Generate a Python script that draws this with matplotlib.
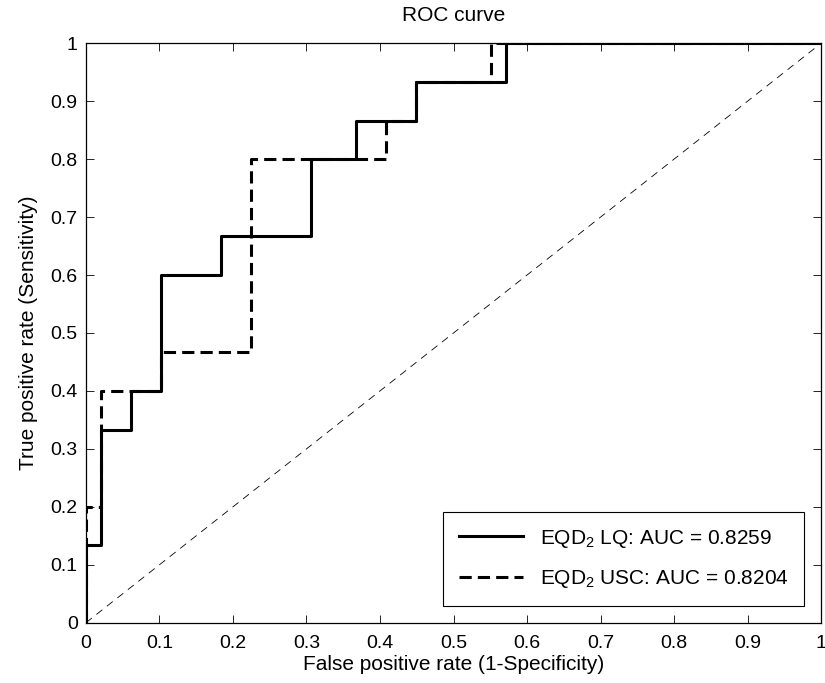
import matplotlib
matplotlib.use("Agg")
import matplotlib.pyplot as plt

plt.rcParams['font.family'] = ['Liberation Sans', 'DejaVu Sans']
plt.rcParams['mathtext.default'] = 'regular'

# ROC points (49 negatives, 15 positives)
fpr_lq = [0.0, 0.0, 0.0204, 0.0204, 0.0612, 0.0612, 0.1020, 0.1020, 0.1837, 0.1837,
          0.3061, 0.3061, 0.3673, 0.3673, 0.4490, 0.4490, 0.5714, 0.5714, 1.0]
tpr_lq = [0.0, 0.1333, 0.1333, 0.3333, 0.3333, 0.4, 0.4, 0.6, 0.6, 0.6667,
          0.6667, 0.8, 0.8, 0.8667, 0.8667, 0.9333, 0.9333, 1.0, 1.0]

fpr_usc = [0.0, 0.0, 0.0204, 0.0204, 0.1020, 0.1020, 0.2245, 0.2245, 0.4082, 0.4082,
           0.4490, 0.4490, 0.5510, 0.5510, 1.0]
tpr_usc = [0.0, 0.2, 0.2, 0.4, 0.4, 0.4667, 0.4667, 0.8, 0.8, 0.8667,
           0.8667, 0.9333, 0.9333, 1.0, 1.0]

auc_lq = 0.8259
auc_usc = 0.8204

ticks = [0, 0.1, 0.2, 0.3, 0.4, 0.5, 0.6, 0.7, 0.8, 0.9, 1]
tick_labels = ['0', '0.1', '0.2', '0.3', '0.4', '0.5', '0.6', '0.7', '0.8', '0.9', '1']

fig = plt.figure(figsize=(8.25, 6.83), dpi=100)
ax = fig.add_axes([0.1042, 0.0883, 0.8910, 0.8483])

ax.plot(fpr_lq, tpr_lq, color='black', linewidth=2.2, linestyle='-',
        label=f'EQD$_2$ LQ: AUC = {auc_lq:.4f}')
ax.plot(fpr_usc, tpr_usc, color='black', linewidth=2.2, linestyle=(0, (4, 2)),
        label=f'EQD$_2$ USC: AUC = {auc_usc:.4f}')
ax.plot([0, 1], [0, 1], color='black', linewidth=0.6, linestyle=(0, (9, 7)))

ax.set_xlim(0, 1)
ax.set_ylim(0, 1)
ax.set_xticks(ticks)
ax.set_xticklabels(tick_labels)
ax.set_yticks(ticks)
ax.set_yticklabels(tick_labels)
ax.tick_params(direction='in', length=6, width=0.6, top=True, right=True,
               labelsize=14)
ax.tick_params(axis='x', pad=9)
ax.tick_params(axis='y', pad=6)
for s in ax.spines.values():
    s.set_linewidth(0.9)

ax.set_xlabel('False positive rate (1-Specificity)', fontsize=15, labelpad=2)
ax.set_ylabel('True positive rate (Sensitivity)', fontsize=15, labelpad=9)
ax.set_title('ROC curve', fontsize=15, pad=16)

leg = ax.legend(loc='lower right', fontsize=15, frameon=True, fancybox=False,
                edgecolor='black', framealpha=1, handlelength=3.1,
                borderaxespad=0.8, labelspacing=0.9, borderpad=0.75)
leg.get_frame().set_linewidth(0.8)

fig.savefig('out.png', dpi=100)
